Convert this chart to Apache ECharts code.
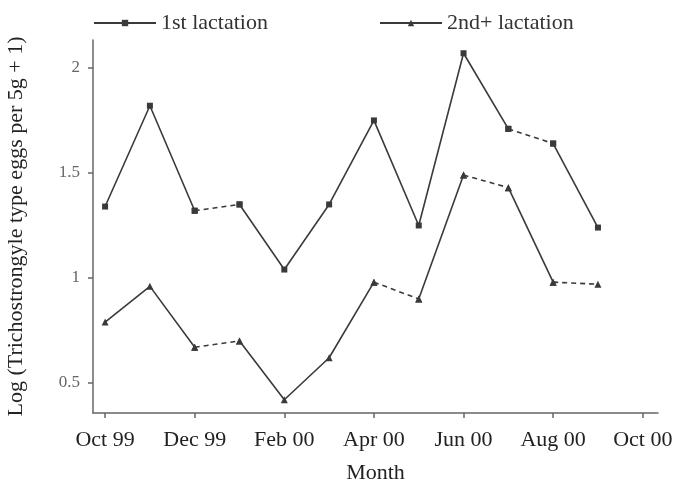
<!DOCTYPE html>
<html>
<head>
<meta charset="utf-8">
<script src="https://cdn.jsdelivr.net/npm/echarts@6/dist/echarts.min.js"></script>
<style>
  html, body { margin: 0; padding: 0; background: #fff; }
  #chart { width: 682px; height: 483px; }
</style>
</head>
<body>
<div id="chart"></div>
<script>
// Monthly sampling, Oct 1999 - Sep 2000
const months = ['Oct 99', 'Nov 99', 'Dec 99', 'Jan 00', 'Feb 00', 'Mar 00',
                'Apr 00', 'May 00', 'Jun 00', 'Jul 00', 'Aug 00', 'Sep 00'];
// Log (egg count + 1) per lactation group
const lactation1 = [1.34, 1.82, 1.32, 1.35, 1.04, 1.35, 1.75, 1.25, 2.07, 1.71, 1.64, 1.24];
const lactation2 = [0.79, 0.96, 0.67, 0.70, 0.42, 0.62, 0.98, 0.90, 1.49, 1.43, 0.98, 0.97];
// Segments (by start month index) drawn dashed
const lactation1Dashed = [2, 9];
const lactation2Dashed = [2, 6, 8, 10];
// Axis tick labels
const xTickPositions = [0, 2, 4, 6, 8, 10, 12];
const xTickLabels = ['Oct 99', 'Dec 99', 'Feb 00', 'Apr 00', 'Jun 00', 'Aug 00', 'Oct 00'];
const yTickValues = [0.5, 1, 1.5, 2];

const FONT = '"Liberation Serif", "Times New Roman", serif';
const LINE = '#3a3a3a';

// Split a series into runs of consecutive solid / dashed segments
function buildRuns(values, dashed) {
  const runs = [];
  for (let i = 0; i < values.length - 1; i++) {
    const isDashed = dashed.includes(i);
    const last = runs[runs.length - 1];
    if (last && last.dashed === isDashed && last.to === i) {
      last.to = i + 1;
    } else {
      runs.push({ from: i, to: i + 1, dashed: isDashed });
    }
  }
  return runs;
}

function makeSeries(name, values, dashed, symbol, symbolSize) {
  return buildRuns(values, dashed).map(run => ({
    name: name,
    type: 'line',
    data: values.slice(run.from, run.to + 1).map((v, k) => [run.from + k, v]),
    symbol: symbol,
    symbolSize: symbolSize,
    showSymbol: true,
    itemStyle: { color: LINE },
    lineStyle: { color: LINE, width: 1.6, type: run.dashed ? [5, 4] : 'solid' },
    emphasis: { disabled: true },
    animation: false,
    z: 3
  }));
}

const series = [].concat(
  makeSeries('1st lactation', lactation1, lactation1Dashed, 'rect', 6),
  makeSeries('2nd+ lactation', lactation2, lactation2Dashed, 'triangle', 7)
);

const legendText = { fontFamily: FONT, fontSize: 22, color: '#333' };

const chart = echarts.init(document.getElementById('chart'), null, { renderer: 'canvas' });
chart.setOption({
  backgroundColor: '#fff',
  animation: false,
  legend: [
    { data: ['1st lactation'], left: 88, top: 7, itemWidth: 62, itemHeight: 8,
      textStyle: legendText, selectedMode: false },
    { data: ['2nd+ lactation'], left: 374, top: 7, itemWidth: 62, itemHeight: 8,
      textStyle: legendText, selectedMode: false }
  ],
  grid: { left: 93, right: 24, top: 40, bottom: 70, containLabel: false, outerBoundsMode: 'none' },
  xAxis: {
    type: 'value',
    min: -0.27,
    max: 12.34,
    name: 'Month',
    nameLocation: 'middle',
    nameGap: 49,
    nameTextStyle: { fontFamily: FONT, fontSize: 22, color: '#222' },
    axisLine: { show: true, onZero: false, lineStyle: { color: '#666', width: 1.5 } },
    axisTick: { show: true, length: 5, customValues: xTickPositions, lineStyle: { color: '#666', width: 1.5 } },
    axisLabel: {
      customValues: xTickPositions,
      formatter: v => xTickLabels[xTickPositions.indexOf(Math.round(v))] || '',
      fontFamily: FONT, fontSize: 22, color: '#222', margin: 16
    },
    splitLine: { show: false }
  },
  yAxis: {
    type: 'value',
    min: 0.357,
    max: 2.133,
    name: 'Log (Trichostrongyle type eggs per 5g + 1)',
    nameLocation: 'middle',
    nameRotate: 90,
    nameGap: 66,
    nameTextStyle: { fontFamily: FONT, fontSize: 22, color: '#222' },
    axisLine: { show: true, onZero: false, lineStyle: { color: '#666', width: 1.5 } },
    axisTick: { show: true, length: 5, customValues: yTickValues, lineStyle: { color: '#666', width: 1.5 } },
    axisLabel: {
      customValues: yTickValues,
      formatter: v => String(v),
      margin: 13,
      fontFamily: FONT, fontSize: 17, color: '#666'
    },
    splitLine: { show: false }
  },
  series: series
});
</script>
</body>
</html>
